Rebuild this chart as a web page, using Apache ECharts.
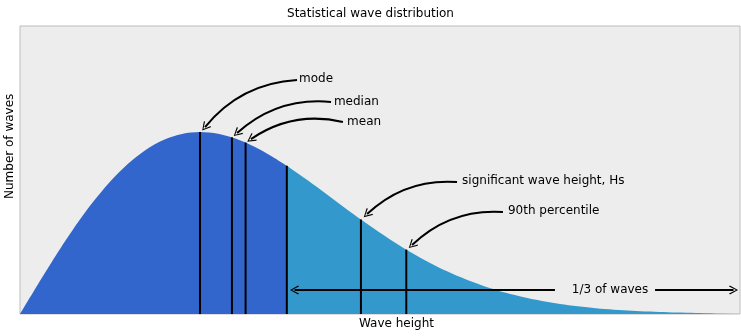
<!DOCTYPE html>
<html><head><meta charset="utf-8">
<script src="https://cdn.jsdelivr.net/npm/echarts@6/dist/echarts.min.js"></script>
<style>html,body{margin:0;padding:0;background:#fff}#c{width:741px;height:336px}</style>
</head><body><div id="c"></div>
<script>
// Wave height (in units of the Rayleigh mode) and relative number of waves
var heightsLeft = [0,0.1,0.2,0.3,0.4,0.5,0.6,0.7,0.8,0.9,1.0,1.1,1.2,1.3,1.4,1.4823];
var densLeft = [0,0.0995,0.196,0.2868,0.3692,0.4412,0.5012,0.5479,0.5809,0.6003,0.6065,0.6007,0.5841,0.5585,0.5254,0.4941];
var heightsRight = [1.4823,1.5,1.6,1.7,1.8,1.9,2.0,2.1,2.2,2.3,2.4,2.5,2.6,2.7,2.8,2.9,3.0,3.2,3.4,3.6,3.8,4.0];
var densRight = [0.4941,0.487,0.4448,0.4007,0.3562,0.3125,0.2707,0.2316,0.1956,0.1633,0.1347,0.1098,0.0885,0.0705,0.0556,0.0433,0.0333,0.0191,0.0105,0.0055,0.0028,0.0013];
// Vertical markers: mode, median, mean, 1/3 threshold, Hs, 90th percentile
var markerNames = ['mode','median','mean','third','Hs','p90'];
var markerX = [1.0,1.1774,1.2533,1.4823,1.894,2.146];
var markerY = [0.6065,0.5887,0.5714,0.4941,0.315,0.2146];
// Annotation texts with anchor (text) and target (curve) points
var annoText = ['mode','median','mean','significant wave height, Hs','90th percentile'];
var annoTextPos = [[1.55,0.784],[1.744,0.707],[1.817,0.64],[2.456,0.444],[2.711,0.344]];
var annoFrom = [[1.539,0.78],[1.728,0.707],[1.794,0.64],[2.428,0.44],[2.683,0.34]];
var annoTo = [[1.028,0.623],[1.206,0.603],[1.283,0.583],[1.928,0.333],[2.178,0.23]];
var thirdLabel = '1/3 of waves';
var thirdY = 0.08;
var thirdArrowLeft = [[2.972,thirdY],[1.525,thirdY]];
var thirdArrowRight = [[3.528,thirdY],[3.964,thirdY]];
var thirdLabelX = 3.278;

function zip(a,b){return a.map(function(v,i){return [v,b[i]];});}
var arrowPath = 'path://M5,0 L10,9 L9,10 L5,2.2 L1,10 L0,9 Z';

var series = [
  {type:'line', data: zip(heightsLeft,densLeft), showSymbol:false, smooth:0.3,
   lineStyle:{width:0}, areaStyle:{color:'#3366cc', opacity:1}, z:1},
  {type:'line', data: zip(heightsRight,densRight), showSymbol:false, smooth:0.3,
   lineStyle:{width:0}, areaStyle:{color:'#3399cc', opacity:1}, z:1}
];
markerX.forEach(function(x,i){
  series.push({type:'line', data:[[x,0],[x,markerY[i]]], showSymbol:false,
    lineStyle:{color:'#000', width:2}, z:3, silent:true});
});
series.push({type:'lines', coordinateSystem:'cartesian2d', z:4,
  symbol:['none', arrowPath], symbolSize:9,
  lineStyle:{color:'#000', width:2, curveness:-0.22, opacity:1},
  data: annoFrom.map(function(f,i){return {coords:[f, annoTo[i]]};})
});
series.push({type:'lines', coordinateSystem:'cartesian2d', z:4,
  symbol:['none', arrowPath], symbolSize:9,
  lineStyle:{color:'#000', width:2, curveness:0, opacity:1},
  data: [{coords: thirdArrowLeft},{coords: thirdArrowRight}]
});
series.push({type:'scatter', symbolSize:0, z:5, itemStyle:{opacity:1},
  data: annoTextPos.map(function(p,i){return {value:p, name:annoText[i]};}),
  label:{show:true, position:'right', distance:0, formatter:'{b}', color:'#000',
    fontFamily:'DejaVu Sans', fontSize:12}
});
series.push({type:'scatter', symbolSize:0, z:5, itemStyle:{opacity:1},
  data: [{value:[thirdLabelX, thirdY], name: thirdLabel}],
  label:{show:true, position:'inside', formatter:'{b}', color:'#000',
    fontFamily:'DejaVu Sans', fontSize:12}
});

var chart = echarts.init(document.getElementById('c'), null, {renderer:'canvas'});
chart.setOption({
  animation:false,
  backgroundColor:'#fff',
  title:{text:'Statistical wave distribution', left:'center', top:3,
    textStyle:{fontFamily:'DejaVu Sans', fontSize:12, fontWeight:'normal', color:'#000'}},
  grid:{left:20, right:1, top:26, bottom:22, show:true, backgroundColor:'#ededed',
    borderColor:'#bdbdbd', borderWidth:1},
  xAxis:{type:'value', min:0, max:4, axisLine:{show:false}, axisTick:{show:false},
    axisLabel:{show:false}, splitLine:{show:false}},
  yAxis:{type:'value', min:0, max:0.96, axisLine:{show:false}, axisTick:{show:false},
    axisLabel:{show:false}, splitLine:{show:false}},
  graphic:[
    {type:'text', left:359, top:318, style:{text:'Wave height', font:'12px "DejaVu Sans"', fill:'#000'}},
    {type:'text', x:4, y:199, rotation:Math.PI/2, style:{text:'Number of waves', font:'12px "DejaVu Sans"', fill:'#000'}}
  ],
  series: series
});
</script></body></html>
